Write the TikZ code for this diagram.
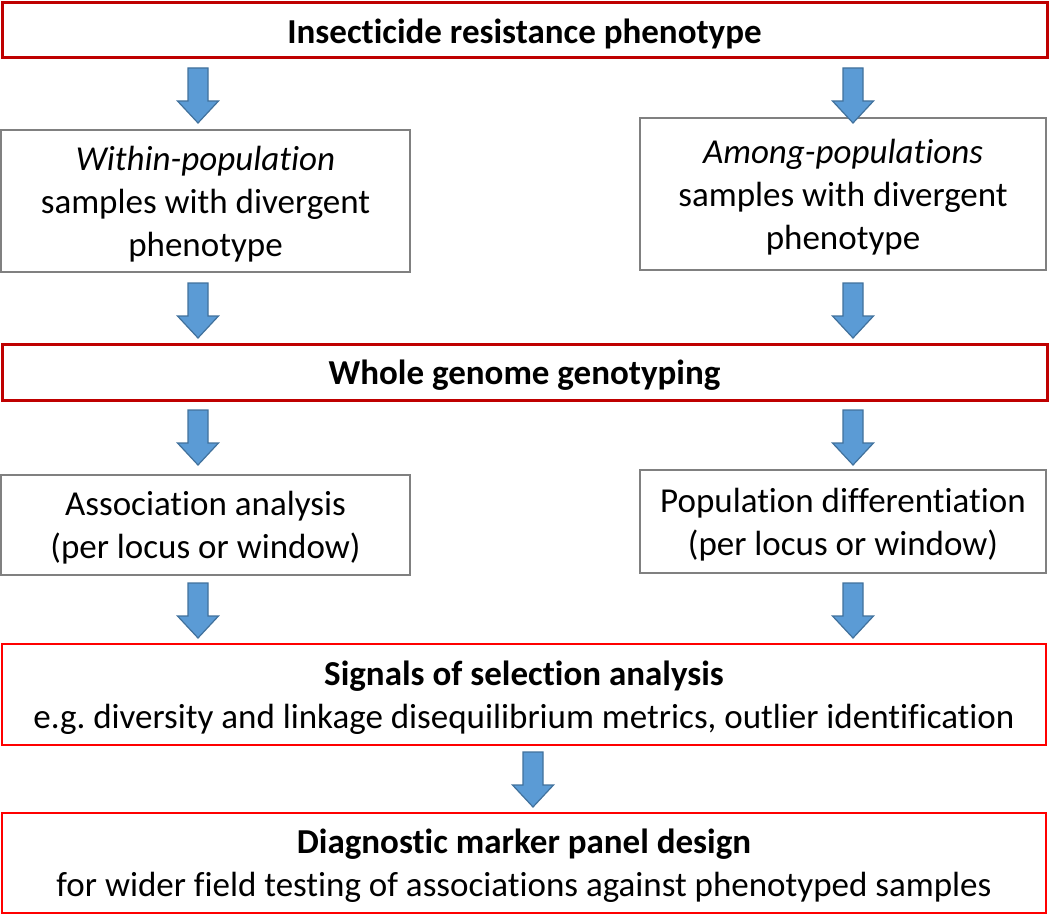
\documentclass[tikz,border=0pt]{standalone}
\usepackage{fontspec}
\setmainfont{Carlito}[Ligatures={NoCommon}]
\begin{document}
\frenchspacing
\begin{tikzpicture}[x=0.5pt,y=-0.5pt,
  every node/.style={font=\fontsize{17.5pt}{21.5pt}\selectfont, align=center, inner sep=0pt, anchor=center},
  txt/.style={yshift=-1.5pt},
  darkredbox/.style={draw=red!75!black, line width=1.5pt, fill=white},
  graybox/.style={draw=black!50, line width=1pt, fill=white},
  redbox/.style={draw=red, line width=0.8pt, fill=white},
  barrow/.pic={\filldraw[fill=arrowblue, draw=arrowedge, line width=0.6pt, line join=miter]
     (-10,0) -- (10,0) -- (10,33) -- (20.5,33) -- (0,55) -- (-20.5,33) -- (-10,33) -- cycle;}]
\definecolor{arrowblue}{HTML}{5B9BD5}
\definecolor{arrowedge}{HTML}{41719C}
\useasboundingbox (0,0) rectangle (1050,915);

\node (n1) [darkredbox, minimum width=522.5pt, minimum height=27.5pt] at (524.5,30.5) {};
\node (n1t) [txt] at (n1) {\bfseries Insecticide resistance phenotype};
\node (n2l) [graybox, minimum width=204.5pt, minimum height=71pt] at (205.5,201) {};
\node (n2lt) [txt] at (n2l) {\itshape Within-population\\samples with divergent\\phenotype};
\node (n2r) [graybox, minimum width=203pt, minimum height=76pt] at (843,194) {};
\node (n2rt) [txt] at (n2r) {\itshape Among-populations\\samples with divergent\\phenotype};
\node (n3) [darkredbox, minimum width=522.5pt, minimum height=28pt] at (524.5,372) {};
\node (n3t) [txt] at (n3) {\bfseries Whole genome genotyping};
\node (n4l) [graybox, minimum width=204.5pt, minimum height=50pt] at (205.5,525) {};
\node (n4lt) [txt] at (n4l) {Association analysis\\(per locus or window)};
\node (n4r) [graybox, minimum width=203pt, minimum height=51.5pt] at (843,521.5) {};
\node (n4rt) [txt] at (n4r) {Population differentiation\\(per locus or window)};
\node (n5) [redbox, minimum width=522pt, minimum height=50.5pt] at (524,694.5) {};
\node (n5t) [txt] at (n5) {\textbf{Signals of selection analysis}\\e.g. diversity and linkage disequilibrium metrics, outlier identification};
\node (n6) [redbox, minimum width=522pt, minimum height=50pt] at (524,863) {};
\node (n6t) [txt] at (n6) {\textbf{Diagnostic marker panel design}\\for wider field testing of associations against phenotyped samples};

\pic at (198,68) {barrow};
\pic at (853,68) {barrow};
\pic at (198,283) {barrow};
\pic at (853,283) {barrow};
\pic at (198,410) {barrow};
\pic at (853,410) {barrow};
\pic at (198,583) {barrow};
\pic at (853,583) {barrow};
\pic at (533,752) {barrow};
\end{tikzpicture}
\end{document}
